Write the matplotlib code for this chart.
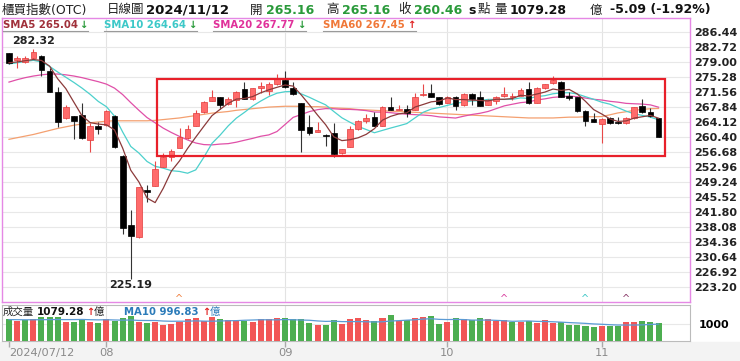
import matplotlib
matplotlib.use('Agg')
import matplotlib.pyplot as plt
import numpy as np
from matplotlib.patches import Rectangle
from matplotlib.lines import Line2D

plt.rcParams['font.family'] = ['DejaVu Sans', 'Noto Sans CJK TC']

# ---- data (OTC index, daily, 2024/07/12 - 2024/11/12) ----
opens = np.array([
    281.15, 279.5, 279.1, 279.9, 280.5, 276.8, 271.6, 265.0, 265.6, 265.8,
    259.6, 263.1, 263.4, 265.6, 255.7, 238.6, 235.5, 247.2, 248.3, 253.0,
    255.3, 257.7, 260.2, 263.2, 266.5, 269.4, 270.2, 268.6, 269.6, 272.2,
    269.7, 272.5, 271.9, 273.5, 274.4, 272.5, 268.8, 262.8, 261.6, 260.8,
    261.3, 256.3, 258.0, 262.3, 264.3, 265.3, 263.1, 267.8, 267.1, 267.3,
    267.1, 270.7, 271.4, 270.2, 268.9, 270.2, 268.2, 271.06, 270.2, 268.3,
    269.2, 270.6, 270.2, 270.6, 272.2, 268.8, 272.5, 273.7, 274.1, 270.6,
    270.2, 266.9, 264.8, 263.6, 265.0, 264.0, 263.9, 265.0, 268.1, 266.7,
    265.16])
highs = np.array([
    281.3, 280.5, 280.5, 282.32, 280.8, 277.4, 272.9, 268.3, 265.7, 268.8,
    263.8, 264.2, 267.1, 265.8, 255.8, 242.3, 248.0, 248.5, 254.3, 256.4,
    257.4, 262.5, 263.4, 267.1, 269.2, 272.1, 270.3, 270.2, 271.7, 274.1,
    272.6, 274.1, 274.1, 275.9, 276.8, 274.1, 268.9, 265.8, 264.2, 261.2,
    263.9, 257.4, 263.0, 264.6, 266.0, 266.7, 268.0, 270.4, 268.3, 268.3,
    271.2, 273.5, 273.5, 270.4, 270.6, 270.6, 271.2, 271.2, 271.9, 269.7,
    270.6, 272.7, 271.2, 272.5, 274.1, 272.7, 273.6, 275.5, 274.3, 271.6,
    270.3, 267.0, 266.3, 265.0, 265.4, 265.4, 265.4, 267.8, 269.7, 267.5,
    265.16])
lows = np.array([
    278.4, 277.6, 278.8, 279.7, 275.4, 271.5, 262.9, 264.9, 259.9, 260.0,
    256.7, 261.0, 263.2, 257.6, 236.2, 225.19, 235.4, 244.3, 248.2, 252.9,
    254.3, 257.6, 260.0, 263.0, 266.3, 269.3, 267.3, 268.2, 267.9, 269.7,
    269.5, 271.2, 270.8, 273.3, 272.5, 270.9, 256.6, 260.9, 261.5, 258.1,
    255.3, 256.1, 257.9, 262.2, 263.8, 263.0, 263.0, 267.0, 267.0, 265.3,
    267.0, 270.6, 270.3, 268.3, 268.8, 267.1, 268.1, 268.4, 268.0, 268.2,
    268.6, 270.4, 269.6, 270.5, 268.6, 268.7, 272.4, 273.5, 270.2, 269.6,
    266.5, 263.1, 264.0, 259.0, 263.5, 263.6, 263.7, 264.9, 266.3, 265.4,
    260.3])
closes = np.array([
    278.66, 279.9, 279.9, 281.4, 277.0, 271.6, 264.2, 267.7, 264.4, 260.2,
    263.2, 262.4, 266.8, 258.0, 237.7, 235.7, 247.9, 246.8, 252.4, 255.5,
    257.0, 260.5, 262.4, 266.3, 269.0, 270.2, 268.3, 269.8, 271.6, 269.8,
    272.5, 273.0, 273.5, 274.7, 272.7, 271.1, 262.0, 261.3, 262.0, 260.7,
    256.1, 257.3, 262.4, 264.4, 265.0, 263.1, 267.9, 267.1, 267.4, 266.4,
    270.2, 271.1, 270.4, 268.5, 270.2, 268.1, 271.1, 269.7, 268.1, 269.6,
    270.2, 271.1, 270.6, 272.1, 268.8, 272.6, 273.5, 274.4, 270.4, 270.0,
    266.9, 264.4, 264.2, 264.9, 263.9, 263.8, 265.0, 267.7, 266.5, 265.55,
    260.46])

sma5 = np.array([
    278.8, 279.0, 279.3, 279.6, 279.37, 277.96, 274.82, 272.38, 268.98, 265.62,
    263.94, 263.58, 263.4, 262.12, 257.62, 252.12, 249.22, 245.22, 244.1, 247.66,
    251.92, 254.44, 257.56, 260.34, 263.04, 265.68, 267.24, 268.72, 269.78, 269.94,
    270.4, 271.34, 272.08, 272.7, 273.28, 273.0, 270.8, 268.36, 265.82, 263.42,
    260.42, 259.48, 259.7, 260.18, 261.04, 262.44, 264.56, 265.5, 266.1, 266.38,
    267.8, 268.44, 269.1, 269.32, 270.08, 269.66, 269.66, 269.52, 269.44, 269.32,
    269.74, 269.74, 269.92, 270.72, 270.56, 271.04, 271.52, 272.28, 271.94, 272.18,
    271.04, 269.22, 267.18, 266.08, 264.86, 264.24, 264.36, 265.08, 265.4, 265.73,
    265.04])
sma10 = np.array([
    278.5, 278.8, 279.1, 279.4, 279.0, 277.9, 276.5, 275.2, 273.9, 272.5,
    270.95, 269.2, 267.89, 265.55, 261.62, 258.03, 256.4, 254.31, 253.11, 252.64,
    252.02, 251.83, 251.39, 252.22, 255.35, 258.8, 260.84, 263.14, 265.06, 266.49,
    268.04, 269.29, 270.4, 271.24, 271.61, 271.7, 271.07, 270.22, 269.26, 268.35,
    266.71, 265.14, 264.03, 263.0, 262.23, 261.43, 262.02, 262.6, 263.14, 263.71,
    265.12, 266.5, 267.3, 267.71, 268.23, 268.73, 269.05, 269.31, 269.38, 269.7,
    269.7, 269.7, 269.72, 270.08, 269.94, 270.39, 270.63, 271.1, 271.33, 271.37,
    271.04, 270.37, 269.73, 269.01, 268.52, 267.65, 266.8, 266.13, 265.74, 265.3,
    264.64])
sma20 = np.array([
    274.0, 274.6, 275.1, 275.5, 275.8, 276.0, 276.0, 275.8, 275.5, 275.1,
    274.6, 274.1, 273.5, 272.5, 270.9, 268.9, 267.0, 265.2, 263.9, 262.57,
    261.49, 260.52, 259.64, 258.89, 258.49, 258.42, 258.62, 258.73, 259.09, 259.57,
    260.03, 260.56, 260.9, 261.73, 263.48, 265.25, 265.96, 266.68, 267.16, 267.42,
    267.38, 267.22, 267.22, 267.12, 266.92, 266.57, 266.55, 266.41, 266.2, 266.03,
    265.92, 265.82, 265.67, 265.36, 265.23, 265.08, 265.54, 265.96, 266.26, 266.71,
    267.41, 268.1, 268.51, 268.9, 269.09, 269.56, 269.84, 270.21, 270.36, 270.54,
    270.37, 270.04, 269.73, 269.55, 269.23, 269.02, 268.72, 268.62, 268.54, 268.34,
    267.77])
sma60 = np.array([
    259.8, 260.2, 260.6, 261.0, 261.5, 262.0, 262.5, 262.9, 263.3, 263.6,
    263.9, 264.1, 264.3, 264.4, 264.4, 264.4, 264.4, 264.4, 264.5, 264.7,
    264.9, 265.1, 265.4, 265.7, 266.0, 266.3, 266.5, 266.7, 267.0, 267.2,
    267.4, 267.6, 267.8, 267.9, 268.0, 268.0, 268.0, 267.9, 267.9, 267.8,
    267.6, 267.5, 267.4, 267.2, 267.1, 267.0, 266.9, 266.8, 266.7, 266.6,
    266.5, 266.4, 266.3, 266.2, 266.1, 266.0, 265.9, 265.8, 265.7, 265.6,
    265.5, 265.4, 265.3, 265.2, 265.1, 265.1, 265.1, 265.1, 265.2, 265.3,
    265.3, 265.4, 265.4, 265.45, 265.88, 266.35, 266.64, 266.99, 267.22, 267.39,
    267.45])

# volume in 億
volume = np.array([
    1275, 1176, 1235, 1314, 1431, 1392, 1392, 1118, 1118, 1235,
    1118, 1078, 1314, 1176, 1333, 1471, 1137, 1078, 1118, 941,
    980, 1118, 1314, 1373, 1176, 1412, 1275, 1216, 1176, 1176,
    1118, 1275, 1275, 1353, 1353, 1275, 1275, 1078, 961, 922,
    1235, 1020, 1275, 1373, 1235, 1176, 1373, 1529, 1176, 1216,
    1353, 1431, 1471, 1000, 1118, 1333, 1275, 1235, 1353, 1275,
    1157, 1216, 1137, 1137, 1176, 1078, 1216, 1078, 1118, 941,
    941, 900, 820, 900, 890, 880, 1110, 1090, 1200, 1100,
    1079.28])
vol_ma10 = np.array([
    1260, 1255, 1250, 1250, 1255, 1260, 1265, 1260, 1262, 1269,
    1254, 1244, 1252, 1238, 1228, 1236, 1211, 1207, 1207, 1176,
    1162, 1166, 1166, 1186, 1171, 1165, 1179, 1193, 1199, 1222,
    1236, 1252, 1248, 1246, 1264, 1250, 1236, 1222, 1181, 1155,
    1167, 1142, 1142, 1144, 1132, 1122, 1132, 1177, 1198, 1227,
    1250, 1291, 1311, 1274, 1262, 1272, 1262, 1232, 1229, 1235,
    1215, 1193, 1160, 1174, 1180, 1155, 1149, 1133, 1110, 1084,
    1062, 1038, 1006, 985, 960, 940, 940, 940, 950, 975,
    996.83])

month_idx = [0, 12, 34, 54, 73]
month_labels = ['2024/07/12', '08', '09', '10', '11']
price_ticks = [223.20, 226.92, 230.64, 234.36, 238.08, 241.80, 245.52, 249.24, 252.96,
               256.68, 260.40, 264.12, 267.84, 271.56, 275.28, 279.00, 282.72, 286.44]

# MA cross markers under the price panel (candle index, colour)
cross_idx = [21, 61, 71, 76]
cross_colors = ['#f08040', '#d9409f', '#40c8c8', '#8b3a6a']

# highlighted consolidation range
box_x = (18.23, 80.79)
box_y = (255.67, 274.78)

# ---- layout helpers (pixel -> figure fraction) ----
W, H = 740, 361
def fx(x):
    return x / W
def fy(y):
    return 1 - y / H

fig = plt.figure(figsize=(7.4, 3.61), dpi=100)
fig.patch.set_facecolor('white')
fig.add_artist(Rectangle((0, 0), 1, fy(342), transform=fig.transFigure,
                         color='#f3f3f3', zorder=0))

ax = fig.add_axes([fx(2), fy(302), fx(688), 284 / H])
axv = fig.add_axes([fx(2), fy(341), fx(688), 36 / H])

idx = np.arange(len(closes))
xlim = (-0.86, 83.87)

# ---- price panel ----
up = closes >= opens
body_col = np.where(up, '#ff6b6b', '#000000')
edge_col = np.where(up, '#e23a3a', '#000000')
wick_col = np.where(up, '#e84848', '#333333')
ax.vlines(idx, lows, highs, colors=wick_col, lw=0.8, zorder=3)
body_h = np.maximum(np.abs(closes - opens), 0.15)
ax.bar(idx, body_h, bottom=np.minimum(opens, closes), width=0.7,
       color=body_col, edgecolor=edge_col, lw=0.5, zorder=4)

ax.plot(idx, sma60, color='#f4a070', lw=0.9, zorder=2)
ax.plot(idx, sma20, color='#e050a8', lw=0.9, zorder=2)
ax.plot(idx, sma10, color='#4cd0cc', lw=0.9, zorder=2)
ax.plot(idx, sma5, color='#8b3a3a', lw=0.9, zorder=5)

ax.add_patch(Rectangle((box_x[0], box_y[0]), box_x[1] - box_x[0], box_y[1] - box_y[0],
                       fill=False, edgecolor='#e8202a', lw=1.6, zorder=6))

hi = np.argmax(highs)
lo = np.argmin(lows)
ax.text(hi, highs[hi] + 0.6, f'{highs[hi]:.2f}', ha='center', va='bottom',
        fontsize=8, fontweight='bold', color='#222')
ax.text(lo, lows[lo] - 0.4, f'{lows[lo]:.2f}', ha='center', va='top',
        fontsize=8, fontweight='bold', color='#222')

for i, c in zip(cross_idx, cross_colors):
    ax.text(i, 220.2, '^', ha='center', va='center', fontsize=7, color=c)

ax.set_xlim(*xlim)
ax.set_ylim(219.44, 289.9)
ax.set_yticks(price_ticks)
ax.set_yticklabels([f'{v:.2f}' for v in price_ticks])
ax.yaxis.tick_right()
ax.tick_params(axis='y', length=0, pad=3, labelsize=8, labelcolor='#222')
for t in ax.get_yticklabels():
    t.set_fontweight('bold')
ax.set_xticks([])
ax.grid(axis='y', color='#e8e8e8', lw=0.8)
for m in month_idx[1:]:
    ax.axvline(m, color='#e3e3e3', lw=0.8, zorder=0)
for s in ax.spines.values():
    s.set_color('#e588e5')
    s.set_linewidth(1.0)

# ---- volume panel ----
prev_close = np.r_[opens[0], closes[:-1]]
vol_col = np.where(closes > prev_close, '#f25656', '#4cae50')
axv.bar(idx, volume, width=0.74, color=vol_col, zorder=3)
axv.plot(idx, vol_ma10, color='#5b9bd5', lw=0.9, zorder=4)
axv.set_xlim(*xlim)
axv.set_ylim(0, 2120)
axv.set_yticks([1000])
axv.set_yticklabels(['1000'])
axv.yaxis.tick_right()
axv.tick_params(axis='y', length=0, pad=6, labelsize=8)
axv.get_yticklabels()[0].set_fontweight('bold')
axv.grid(axis='y', color='#e8e8e8', lw=0.8)
for m in month_idx[1:]:
    axv.axvline(m, color='#e3e3e3', lw=0.8, zorder=0)
axv.set_xticks(month_idx)
axv.set_xticklabels(month_labels)
axv.tick_params(axis='x', length=4, width=1, color='#aaaaaa', pad=1,
                labelsize=8.2, labelcolor='#8a8a8a')
axv.get_xticklabels()[0].set_ha('left')
for s in axv.spines.values():
    s.set_color('#bbbbbb')
    s.set_linewidth(0.8)

# ---- header texts ----
def put(x, y, s, color='#222', weight='normal', size=9):
    fig.text(fx(x), fy(y), s, color=color, fontweight=weight, fontsize=size,
             ha='left', va='center')

green = '#2a9a3a'
put(2, 10, '櫃買指數(OTC)', size=9)
put(107, 10, '日線圖', size=9)
put(146, 10, '2024/11/12', '#111', 'bold', 9.5)
put(250, 10, '開', size=9)
put(266, 10, '265.16', green, 'bold', 9)
put(326, 10, '高', size=9)
put(342, 10, '265.16', green, 'bold', 9)
put(398, 10, '收', size=9)
put(414, 10, '260.46', green, 'bold', 9)
put(468, 10, 's', '#111', 'bold', 9)
put(478, 10, '點', size=9)
put(494, 10, '量', size=9)
put(510, 10, '1079.28', '#111', 'bold', 9)
put(590, 10, '億', size=9)
put(610, 10, '-5.09 (-1.92%)', '#111', 'bold', 9)

# MA legend row with underlines
legend = [(3, 88, 'SMA5 265.04', '#a0303a', '↓', green),
          (104, 197, 'SMA10 264.64', '#3cc8c8', '↓', green),
          (213, 306, 'SMA20 267.77', '#e0309a', '↓', green),
          (323, 416, 'SMA60 267.45', '#f07838', '↑', '#e02020')]
for x0, x1, s, c, arr, ac in legend:
    put(x0, 25, s, c, 'bold', 7.3)
    put(x1 - 9, 25, arr, ac, 'bold', 7.3)
    fig.add_artist(Line2D([fx(x0), fx(x1)], [fy(31), fy(31)], color='#9a9a9a', lw=0.8))

# volume legend
put(3, 312, '成交量', size=7.5)
put(37, 312, '1079.28', '#111', 'bold', 7.5)
put(86, 312, '↑', '#e02020', 'bold', 7)
put(94, 312, '億', size=7.5)
put(124, 312, 'MA10 996.83', '#2b7bb9', 'bold', 7.3)
put(202, 312, '↑', '#e02020', 'bold', 7)
put(210, 312, '億', '#2b7bb9', size=7.5)

plt.savefig('out.png', dpi=100)
